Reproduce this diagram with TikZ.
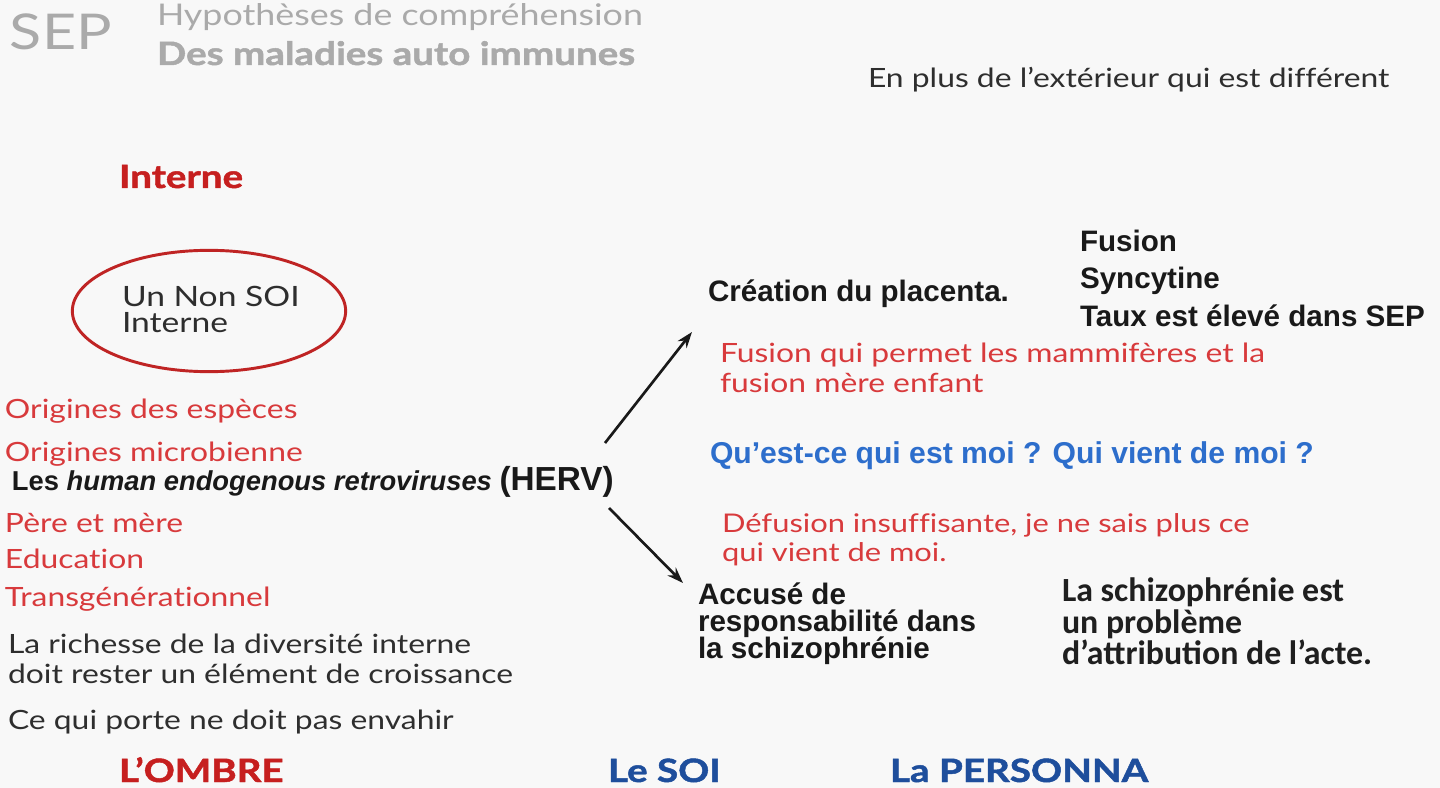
\documentclass[tikz,border=0pt]{standalone}
\usepackage{fontspec}
\usetikzlibrary{arrows.meta,shapes.geometric}
\newfontfamily\gill[FakeStretch=1.2, Ligatures=NoCommon, BoldFeatures={FakeBold=1.5}]{Lato}
\newfontfamily\arial{Liberation Sans}
\newfontfamily\calib{Carlito}
\definecolor{bg}{HTML}{F8F8F8}
\definecolor{ttl}{HTML}{AAAAAA}
\definecolor{dark}{HTML}{2E2E2E}
\definecolor{redtxt}{HTML}{D83A3C}
\definecolor{redbold}{HTML}{C61F1F}
\definecolor{ellred}{HTML}{BF2424}
\definecolor{bluetxt}{HTML}{2D6ECC}
\definecolor{bluebold}{HTML}{1E4E9C}
\tikzset{
  txt/.style={anchor=base west, inner sep=0pt, outer sep=0pt},
  gillreg/.style={txt, font=\gill\fontsize{19.9}{24}\selectfont},
  gillred/.style={gillreg, text=redtxt},
  gilldark/.style={gillreg, text=dark},
  gillhead/.style={txt, font=\gill\bfseries\fontsize{24.1}{28}\selectfont},
  arialb/.style={txt, font=\arial\bfseries\fontsize{22.2}{26}\selectfont, text=black!90},
  calibb/.style={txt, font=\calib\bfseries\fontsize{25.4}{30}\selectfont, text=black!88},
  arr/.style={line width=2pt, -{Stealth[length=12pt,width=8.5pt]}, black!90}
}
\begin{document}
\begin{tikzpicture}[x=0.75pt,y=-0.75pt]
\useasboundingbox[fill=bg] (0,0) rectangle (1440,788);
% title
\node[txt, font=\gill\fontsize{37}{40}\selectfont, text=ttl] (sep) at (10,50) {SEP};
\node[txt, font=\gill\fontsize{22.4}{26}\selectfont, text=ttl] (hyp) at (157,26) {Hypothèses de compréhension};
\node[gillhead, text=ttl] (des) at (157,65) {Des maladies auto immunes};
\node[gilldark] (enplus) at (868,88) {En plus de l’extérieur qui est différent};
% left column
\node[gillhead, text=redbold] (interne) at (119,188) {Interne};
\node[draw=ellred, line width=2.2pt, ellipse, minimum width=205pt, minimum height=91pt, inner sep=0pt] (ell) at (209,311) {};
\node[gilldark, font=\gill\fontsize{21}{24}\selectfont] (nonsoi) at (122,306) {Un Non SOI};
\node[gilldark, font=\gill\fontsize{21}{24}\selectfont] (nonsoi2) at (122,333) {Interne};
\node[gillred] (o1) at (5,418) {Origines des espèces};
\node[gillred] (o2) at (5,461) {Origines microbienne};
\node[txt, font=\arial\bfseries\fontsize{20.5}{24}\selectfont, text=black!90] (herv) at (12,490) {Les \textit{human endogenous retroviruses} {\fontsize{25}{28}\selectfont(HERV)}};
\node[gillred] (o3) at (5,532) {Père et mère};
\node[gillred] (o4) at (5,568) {Education};
\node[gillred] (o5) at (5,606) {Transgénérationnel};
\node[gilldark] (r1) at (8,653) {La richesse de la diversité interne};
\node[gilldark] (r2) at (8,683) {doit rester un élément de croissance};
\node[gilldark] (r3) at (8,729) {Ce qui porte ne doit pas envahir};
% bottom
\node[gillhead, text=redbold] (ombre) at (119,782) {L’OMBRE};
\node[gillhead, text=bluebold] (soi) at (608,782) {Le SOI};
\node[gillhead, text=bluebold] (persona) at (890,782) {La PERSONNA};
% right side
\node[arialb] (creation) at (708,301) {Création du placenta.};
\node[arialb] (f1) at (1080,252) {Fusion};
\node[arialb] (f2) at (1080,289) {Syncytine};
\node[arialb] (f3) at (1080,326) {Taux est élevé dans SEP};
\node[gillred] (m1) at (720,363) {Fusion qui permet les mammifères et la};
\node[gillred] (m2) at (720,392) {fusion mère enfant};
\node[arialb, text=bluetxt, font=\arial\bfseries\fontsize{22.6}{26}\selectfont] (q) at (710,463) {Qu’est-ce qui est moi ? Qui vient de moi ?};
\node[gillred, font=\gill\fontsize{19.3}{24}\selectfont] (d1) at (722,532) {Défusion insuffisante, je ne sais plus ce};
\node[gillred, font=\gill\fontsize{19.3}{24}\selectfont] (d2) at (722,561) {qui vient de moi.};
\node[arialb] (a1) at (698,604) {Accusé de};
\node[arialb] (a2) at (698,631) {responsabilité dans};
\node[arialb] (a3) at (698,658) {la schizophrénie};
\node[calibb] (s1) at (1062,601) {La schizophrénie est};
\node[calibb] (s2) at (1062,633) {un problème};
\node[calibb] (s3) at (1062,664) {d’attribution de l’acte.};
% arrows
\coordinate (upS) at (605,443);
\coordinate (upE) at (692,332);
\coordinate (dnS) at (609,508);
\coordinate (dnE) at (683,583);
\draw[arr] (upS) -- (upE);
\draw[arr] (dnS) -- (dnE);
\end{tikzpicture}
\end{document}
